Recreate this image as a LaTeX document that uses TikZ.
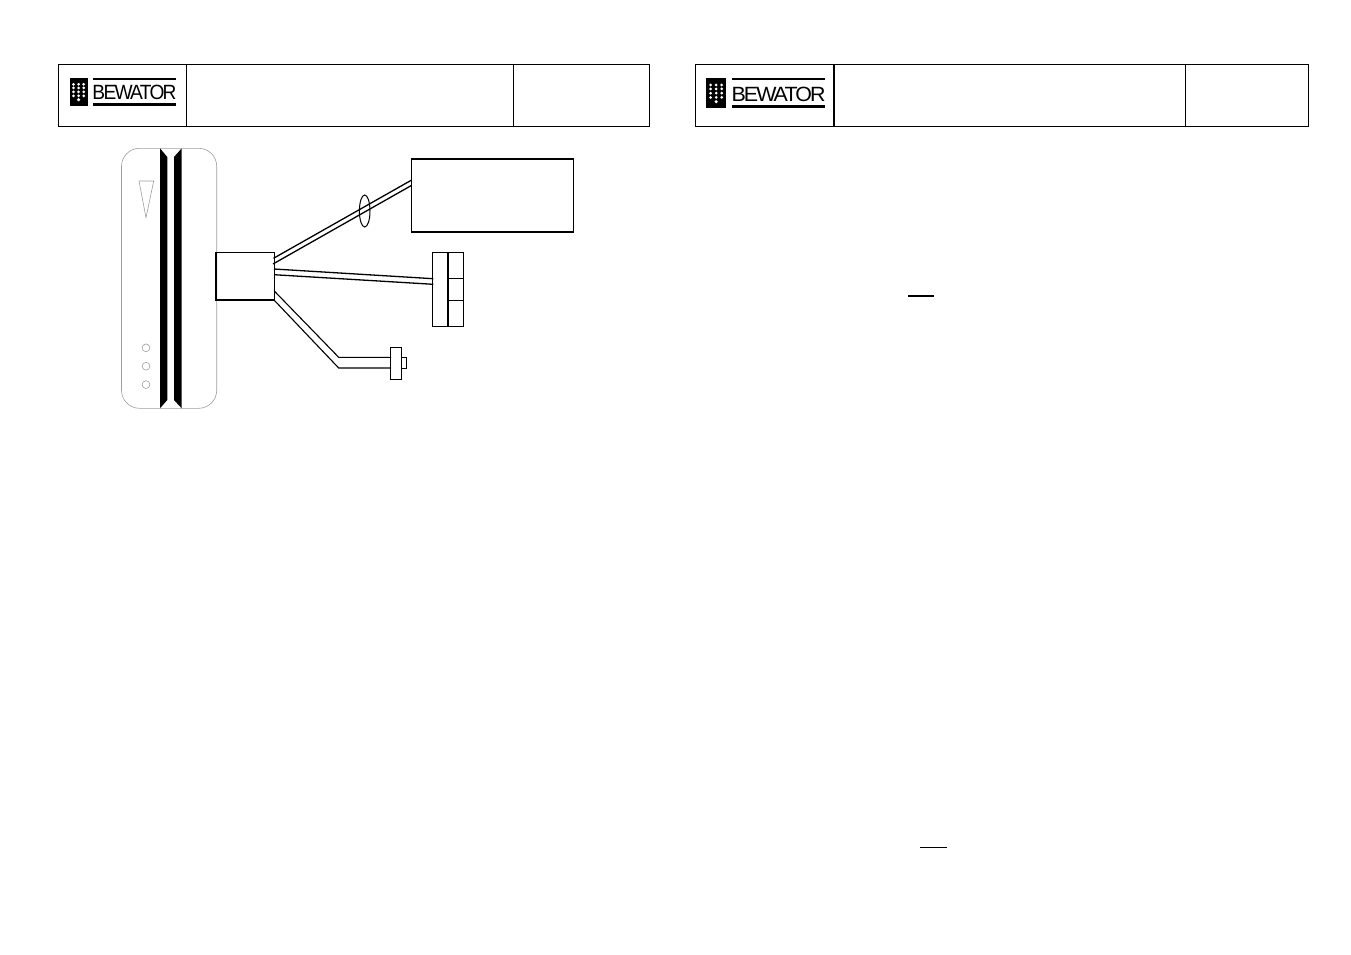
\documentclass[tikz,border=0pt]{standalone}
\usepackage{fontspec}
\usepackage{graphicx}
\usetikzlibrary{shapes.geometric}
\setmainfont{Liberation Sans}
\newfontfamily\logofont[LetterSpace=-9]{Liberation Sans}
\tikzset{
  frame/.style={draw=black,line width=1pt,fill=none},
  part/.style={draw=black,line width=1.2pt,inner sep=0pt,outer sep=0pt},
  thinpart/.style={draw=black,line width=1pt,inner sep=0pt,outer sep=0pt},
  grey/.style={draw=black!38,line width=0.6pt},
  wire/.style={draw=black,line width=1.3pt},
  rule/.style={draw=black,line width=1.1pt},
}
\newcommand{\bewlogo}[9]{%
  \fill[black] (#1,#3) rectangle (#2,#4);
  \draw[line width=2pt] (#5,#7) -- (#6,#7);
  \draw[line width=2.6pt] (#5,#8) -- (#6,#8);
  \node[inner sep=0pt,anchor=center] at ({(#5+#6)/2},#9) {\resizebox{\dimexpr#6pt-#5pt+1pt\relax}{14.4pt}{\logofont BEWATOR}};
  \foreach \cx in {0.22,0.5,0.78}
    \foreach \cy in {0.24,0.37,0.51,0.65}
      \fill[white] ({#1+(#2-#1)*\cx},{#3+(#4-#3)*\cy}) circle (1.5);
  \fill[white] ({#1+(#2-#1)*0.5},{#3+(#4-#3)*0.79}) circle (1.7);
}
\begin{document}
\begin{tikzpicture}[x=1pt,y=-1pt]
\useasboundingbox (0,0) rectangle (1351,954);
% left header
\draw[frame] (58.5,64.5) rectangle (649.5,126.5);
\draw[frame] (186.5,64.5) -- (186.5,126.5);
\draw[frame] (513.5,64.5) -- (513.5,126.5);
\bewlogo{69.5}{87.7}{77.5}{105.7}{93}{176}{79}{104.4}{92.3}
% right header
\draw[frame] (695,64.5) rectangle (1308.5,126.5);
\draw[line width=1.5pt] (834,64.5) -- (834,126.5);
\draw[frame] (1185.5,64.5) -- (1185.5,126.5);
\bewlogo{706.3}{726}{77.7}{108}{732}{825}{79.2}{106.6}{94}
% reader body
\draw[grey,rounded corners=18pt] (121.5,148.3) rectangle (216.7,408.3);
\fill[black] (160,148.3) -- (167.3,157) -- (167.3,400) -- (160,408.3) -- cycle;
\fill[black] (181.7,148.3) -- (174,157) -- (174,400) -- (181.7,408.3) -- cycle;
\draw[grey] (139,181) -- (153.7,181) -- (146,217.7) -- cycle;
\draw[grey] (146,347.8) circle (3.9);
\draw[grey] (146,366.2) circle (3.9);
\draw[grey] (146,384.6) circle (3.9);
% boxes
\node[part,minimum width=58.3pt,minimum height=47.3pt] (hub) at (245.2,276.4) {};
\node[part,minimum width=162pt,minimum height=73pt] (ctrl) at (492.5,195.5) {};
\node[thinpart,minimum width=31.4pt,minimum height=73.6pt] (term) at (448,289.5) {};
\node[thinpart,minimum width=11.4pt,minimum height=32pt] (plug) at (396,363) {};
\node[thinpart,minimum width=5pt,minimum height=11pt] (tip) at (404.2,362.8) {};
% terminal dividers
\draw[line width=1.2pt] (term.north) -- (term.south);
\coordinate (tm1) at (448,278.7); \coordinate (te1) at (term.east |- tm1);
\coordinate (tm2) at (448,300.3); \coordinate (te2) at (term.east |- tm2);
\draw[line width=1pt] (tm1) -- (te1);
\draw[line width=1pt] (tm2) -- (te2);
% cable to controller
\coordinate (a1) at (273.5,258.3); \coordinate (b1) at (411.7,180);
\coordinate (a2) at (273,264);   \coordinate (b2) at (411.7,185.3);
\draw[wire] (a1) -- (b1);
\draw[wire] (a2) -- (b2);
\node[draw=black,line width=1pt,ellipse,inner sep=0pt,minimum width=10.6pt,minimum height=32pt] (clamp) at (364.7,211) {};
% cable to terminal
\coordinate (c1) at (274,269); \coordinate (d1) at (433.3,278.7);
\coordinate (c2) at (274,274.7); \coordinate (d2) at (433.3,284.3);
\draw[wire] (c1) -- (d1);
\draw[wire] (c2) -- (d2);
% cable to plug
\coordinate (e1) at (274,290.7); \coordinate (f1) at (338.7,357.3); \coordinate (g1) at (391,357.3);
\coordinate (e2) at (274,300); \coordinate (f2) at (338.7,368); \coordinate (g2) at (391,368);
\draw[line width=1.1pt] (e1) -- (f1) -- (g1);
\draw[line width=1.1pt] (e2) -- (f2) -- (g2);
% underlines
\draw[rule] (908,296) -- (933.7,296);
\draw[rule] (920,847.3) -- (946.7,847.3);
\end{tikzpicture}
\end{document}
